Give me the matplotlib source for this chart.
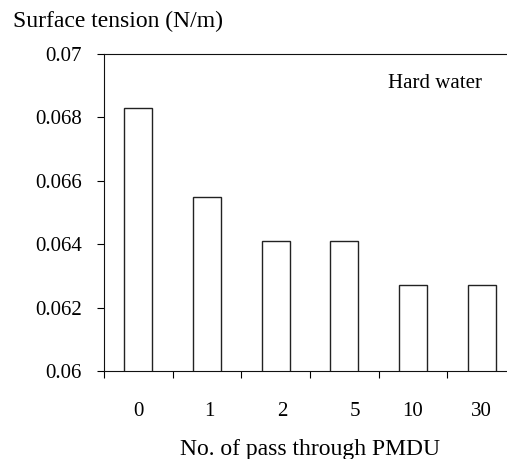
import matplotlib
matplotlib.use("Agg")
import matplotlib.pyplot as plt
import matplotlib.transforms as mtransforms
import numpy as np

# data
passes = ["0", "1", "2", "5", "10", "30"]
surface_tension = [0.0683, 0.0655, 0.0641, 0.0641, 0.0627, 0.0627]
y_ticks = [0.06, 0.062, 0.064, 0.066, 0.068, 0.07]
y_tick_labels = ["0.06", "0.062", "0.064", "0.066", "0.068", "0.07"]

plt.rcParams["font.family"] = ["Liberation Serif", "DejaVu Serif"]

W, H = 507, 459
fig = plt.figure(figsize=(W / 100, H / 100), dpi=100)
# axes runs slightly past the right edge, like the cropped original
ax = fig.add_axes([104 / W, 88 / H, 412 / W, 317 / H])

x = np.arange(len(passes)) + 0.5
ax.bar(x, surface_tension, width=0.41, bottom=0, color="white",
       edgecolor="#222222", linewidth=1.0)

ax.set_xlim(0, len(passes))
ax.set_ylim(0.06, 0.07)

ax.set_yticks(y_ticks)
ax.set_yticklabels(y_tick_labels, fontsize=15)
ax.tick_params(axis="y", direction="out", length=5, width=0.8, pad=11)

# boundary ticks on x, labels centred under bars
ax.set_xticks(np.arange(len(passes) + 1))
ax.set_xticklabels([])
ax.tick_params(axis="x", which="major", direction="out", length=5, width=0.8)
ax.set_xticks(x, minor=True)
ax.set_xticklabels(passes, minor=True, fontsize=15)
ax.tick_params(axis="x", which="minor", length=0, pad=22)

# the original's labels for 2 and 5 sit a little right of their bars
label_shift_px = [0, 2, 7, 11, 0, 0]
for lab, dx in zip(ax.get_xticklabels(minor=True), label_shift_px):
    lab.set_transform(lab.get_transform() +
                      mtransforms.ScaledTranslation(dx / 100, 0, fig.dpi_scale_trans))

for s in ax.spines.values():
    s.set_linewidth(0.8)
    s.set_color("#111111")

fig.text(13 / W, 1 - 21 / H, "Surface tension (N/m)", fontsize=17, va="center", ha="left")
fig.text(388 / W, 1 - 83 / H, "Hard water", fontsize=15, va="center", ha="left")
fig.text(310 / W, 1 - 449 / H, "No. of pass through PMDU", fontsize=17, va="center", ha="center")

fig.savefig("out.png", dpi=100, facecolor="white")
